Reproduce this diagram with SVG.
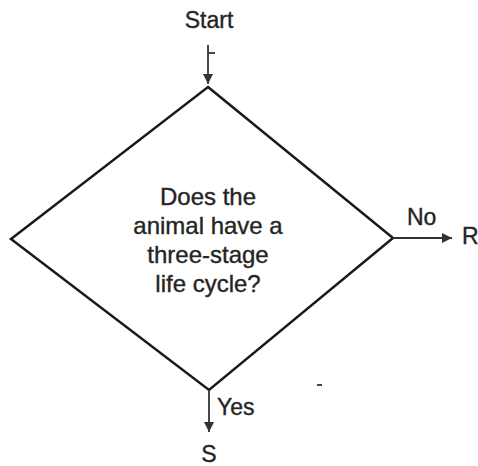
<svg xmlns="http://www.w3.org/2000/svg" width="478" height="466" viewBox="0 0 478 466">
<style>
text{font-family:"Liberation Sans",Arial,sans-serif;fill:#222;stroke:#333;stroke-width:0.4;}
.t{font-size:23px;}
.b{font-size:24px;text-anchor:middle;}
.ln{stroke:#333;stroke-width:1.8;fill:none;}
.shape{stroke:#1a1a1a;stroke-width:2.5;fill:#fff;}
</style>
<defs>
<marker id="ah" viewBox="0 0 10 10" refX="10" refY="5" markerWidth="14" markerHeight="10" markerUnits="userSpaceOnUse" orient="auto">
<path d="M0,0 L10,5 L0,10 Z" fill="#333"/>
</marker>
</defs>
<rect width="478" height="466" fill="#fff"/>
<g id="start">
<text class="t" x="209" y="28" text-anchor="middle">Start</text>
</g>
<g id="decision">
<polygon class="shape" points="208,87 393,238 209,390 11,239"/>
<text class="b" x="208" y="205">Does the</text>
<text class="b" x="208" y="234">animal have a</text>
<text class="b" x="208" y="263">three-stage</text>
<text class="b" x="208" y="292">life cycle?</text>
</g>
<g id="R">
<text class="t" x="462" y="244">R</text>
</g>
<g id="S">
<text class="t" x="209" y="462" text-anchor="middle">S</text>
</g>
<g id="connectors">
<line class="ln" x1="208" y1="45" x2="208" y2="84" marker-end="url(#ah)"/>
<line class="ln" x1="208" y1="53" x2="215" y2="53"/>
<line class="ln" x1="393" y1="238" x2="452" y2="238" marker-end="url(#ah)"/>
<text class="t" x="407" y="225">No</text>
<line class="ln" x1="209" y1="390" x2="209" y2="432" marker-end="url(#ah)"/>
<text class="t" x="217" y="415">Yes</text>
<line class="ln" x1="317" y1="385" x2="322" y2="385"/>
</g>
</svg>
